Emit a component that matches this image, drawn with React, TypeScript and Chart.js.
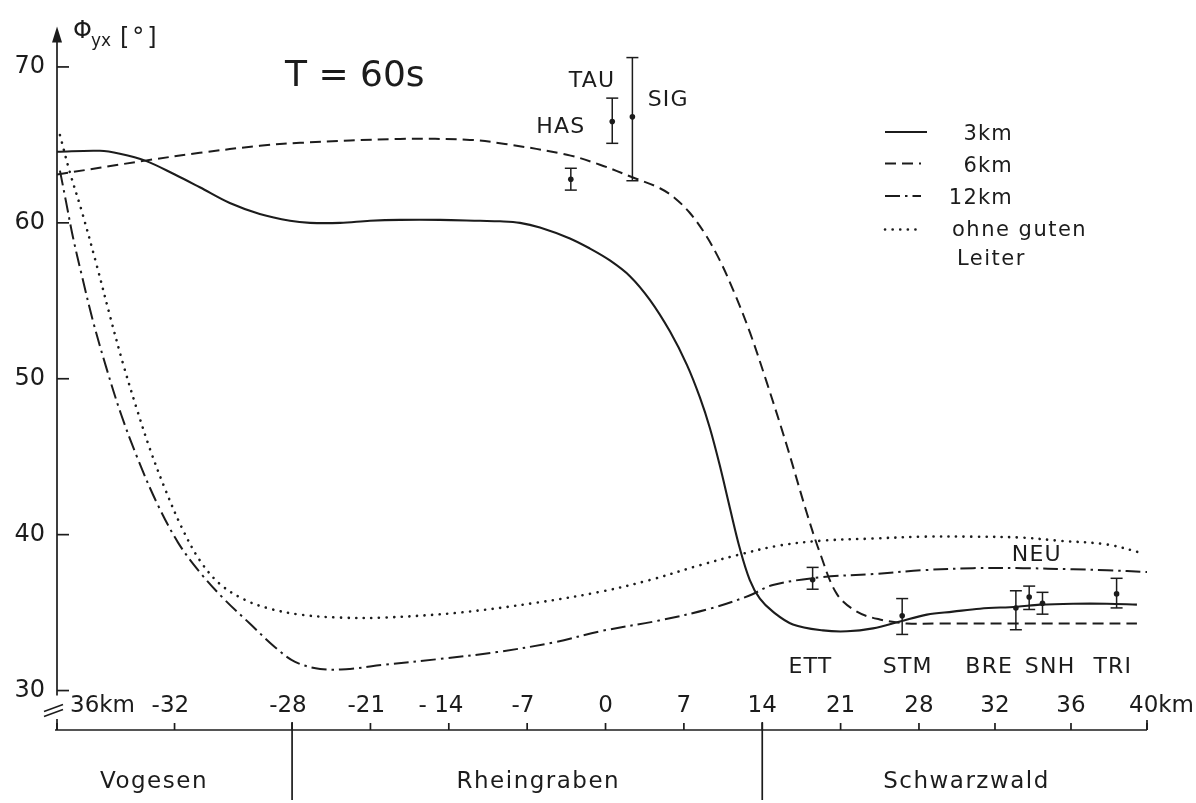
import { useEffect, useRef } from 'react';
import { Chart, registerables } from 'chart.js';

Chart.register(...registerables);

const INK = '#1c1c1c';
const FONT = '"DejaVu Sans", "Liberation Sans", sans-serif';

// Profile axis: piecewise scale, km -> axis units (Vogesen, Rheingraben, Schwarzwald)
const AXIS_KM = [-36, -28, 28, 40];
const AXIS_POS = [0, 3, 11, 13.91];

const TICK_KM = [-36, -32, -28, -21, -14, -7, 0, 7, 14, 21, 28, 32, 36, 40];
const TICK_LABELS = ['36km', '-32', '-28', '-21', '- 14', '-7', '0', '7', '14', '21', '28', '32', '36', '40km'];
const Y_TICKS = [30, 40, 50, 60, 70];

const REGION_NAMES = ['Vogesen', 'Rheingraben', 'Schwarzwald'];
const REGION_LABEL_KM = [-32.7, -6, 30.5];
const REGION_BOUNDS_KM = [-28, 14];

const SERIES_LABELS = ['3km', '6km', '12km', 'ohne guten\nLeiter'];

// Model curves: distance along profile (km) and phase Φyx (°)
const KM_3 = [-36, -34.54, -33.86, -33.0, -31.99, -31.14, -30.12, -29.1, -28.07, -26.39, -23.71, -21.04, -18.36, -14.79, -11.21, -9.43, -7.64, -5.86, -3.18, -1.39, 0.39, 2.18, 3.96, 5.75, 7.27, 8.43, 9.32, 10.21, 11.11, 12.0, 12.89, 13.79, 14.95, 16.74, 19.42, 21.57, 23.89, 26.3, 28.42, 29.79, 31.21, 33.16, 34.37, 36.11, 37.89, 39.47];
const PHI_3 = [64.56, 64.62, 64.43, 63.99, 63.1, 62.28, 61.27, 60.57, 60.13, 60.0, 60.0, 60.13, 60.19, 60.19, 60.13, 60.1, 60.0, 59.7, 59.0, 58.35, 57.59, 56.58, 55.06, 53.04, 50.89, 48.8, 46.84, 44.43, 41.71, 39.11, 37.09, 35.89, 35.06, 34.24, 33.86, 33.8, 33.99, 34.43, 34.87, 35.06, 35.25, 35.38, 35.51, 35.57, 35.57, 35.51];

const KM_6 = [-36, -33.0, -31.14, -29.1, -27.29, -18.36, -12.11, -8.98, -3.45, -0.5, 2.45, 4.86, 6.2, 7.54, 8.88, 10.21, 11.55, 12.9, 14.41, 16.2, 17.98, 19.14, 20.66, 22.45, 24.5, 26.93, 29.1, 33.16, 39.47];
const PHI_6 = [63.1, 63.99, 64.49, 64.94, 65.13, 65.38, 65.32, 65.06, 64.37, 63.73, 62.91, 62.22, 61.58, 60.63, 59.3, 57.59, 55.44, 52.97, 49.75, 45.7, 41.39, 38.86, 36.2, 35.06, 34.56, 34.3, 34.3, 34.3, 34.3];

const KM_12 = [-35.9, -35.69, -35.46, -35.15, -34.78, -34.33, -33.82, -33.24, -32.6, -31.88, -31.14, -30.29, -29.44, -28.58, -27.73, -25.5, -22.82, -19.87, -14.79, -9.7, -4.52, -0.5, 4.77, 9.32, 12.81, 14.95, 19.42, 23.89, 28.21, 30.84, 33.47, 36.11, 37.89, 40.0];
const PHI_12 = [63.35, 61.33, 59.11, 56.58, 53.73, 50.76, 47.72, 44.81, 42.03, 39.49, 37.59, 35.82, 34.3, 32.78, 31.84, 31.39, 31.39, 31.65, 32.03, 32.47, 33.1, 33.8, 34.49, 35.25, 36.08, 36.77, 37.28, 37.47, 37.72, 37.85, 37.85, 37.78, 37.72, 37.6];

const KM_NOC = [-35.9, -35.56, -35.15, -34.64, -34.2, -33.76, -33.28, -32.84, -32.33, -31.75, -31.14, -30.46, -29.61, -28.76, -27.29, -23.71, -19.87, -13.09, -6.21, -0.5, 3.96, 8.43, 12.0, 15.5, 19.42, 23.89, 28.21, 30.84, 33.47, 35.26, 37.89, 39.8];
const PHI_NOC = [65.63, 63.23, 60.7, 57.22, 54.05, 51.01, 48.04, 45.51, 42.97, 40.44, 38.35, 36.84, 35.82, 35.25, 34.87, 34.68, 34.68, 35.0, 35.63, 36.33, 37.09, 38.04, 38.73, 39.3, 39.62, 39.75, 39.87, 39.87, 39.81, 39.62, 39.37, 38.8];

// Stations: measured phase with error range
const STATION_NAMES = ['HAS', 'TAU', 'SIG', 'ETT', 'STM', 'BRE', 'NEU', 'SNH', 'TRI'];
const STATION_KM = [-3.1, 0.6, 2.4, 18.5, 26.5, 33.1, 33.8, 34.5, 38.4];
const STATION_PHI = [62.8, 66.5, 66.8, 37.1, 34.8, 35.3, 36.0, 35.6, 36.2];
const STATION_LOW = [62.1, 65.1, 62.7, 36.5, 33.6, 33.9, 35.2, 34.9, 35.3];
const STATION_HIGH = [63.5, 68.0, 70.6, 37.9, 35.9, 36.4, 36.7, 36.3, 37.2];
// Where each station name is written (km, °)
const STATION_LABEL_KM = [-4.0, -1.2, 5.6, 18.3, 27.0, 31.7, 34.2, 34.9, 38.2];
const STATION_LABEL_PHI = [66.1, 69.1, 67.85, 31.5, 31.5, 31.5, 38.7, 31.5, 31.5];

function kmToAxis(km: number): number {
  for (let i = 1; i < AXIS_KM.length; i++) {
    if (km <= AXIS_KM[i] || i === AXIS_KM.length - 1) {
      const t = (km - AXIS_KM[i - 1]) / (AXIS_KM[i] - AXIS_KM[i - 1]);
      return AXIS_POS[i - 1] + t * (AXIS_POS[i] - AXIS_POS[i - 1]);
    }
  }
  return 0;
}

const toPoints = (km: number[], phi: number[]) => km.map((k, i) => ({ x: kmToAxis(k), y: phi[i] }));

function seg(ctx: CanvasRenderingContext2D, x1: number, y1: number, x2: number, y2: number) {
  ctx.beginPath();
  ctx.moveTo(x1, y1);
  ctx.lineTo(x2, y2);
  ctx.stroke();
}

function text(
  ctx: CanvasRenderingContext2D,
  str: string,
  x: number,
  y: number,
  size: number,
  align: CanvasTextAlign = 'center',
  spacing = 0,
  baseline: CanvasTextBaseline = 'middle'
) {
  ctx.font = `${size}px ${FONT}`;
  (ctx as any).letterSpacing = `${spacing}px`;
  ctx.textAlign = align;
  ctx.textBaseline = baseline;
  ctx.fillText(str, x, y);
  (ctx as any).letterSpacing = '0px';
}

const profileDecor = {
  id: 'profileDecor',
  beforeDraw(chart: any) {
    const { ctx, width, height } = chart;
    ctx.save();
    ctx.fillStyle = '#ffffff';
    ctx.fillRect(0, 0, width, height);
    ctx.restore();
  },
  afterDatasetsDraw(chart: any) {
    const { ctx, chartArea, scales } = chart;
    const X = (km: number) => scales.x.getPixelForValue(kmToAxis(km));
    const Y = (v: number) => scales.y.getPixelForValue(v);
    const left = chartArea.left;
    const top = chartArea.top;
    const bottom = chartArea.bottom;
    const y30 = Y(30);

    ctx.save();
    ctx.strokeStyle = INK;
    ctx.fillStyle = INK;
    ctx.lineWidth = 1.7;
    ctx.lineCap = 'butt';

    // y axis with arrow and a break below 30
    seg(ctx, left, top + 12, left, y30 + 5);
    seg(ctx, left, bottom - 11, left, bottom);
    ctx.beginPath();
    ctx.moveTo(left, top);
    ctx.lineTo(left - 5, top + 16);
    ctx.lineTo(left + 5, top + 16);
    ctx.closePath();
    ctx.fill();
    ctx.lineWidth = 1.5;
    seg(ctx, left - 13, y30 + 21, left + 6, y30 + 14);
    seg(ctx, left - 13, y30 + 26, left + 6, y30 + 19);
    ctx.lineWidth = 1.7;
    Y_TICKS.forEach((v) => seg(ctx, left, Y(v), left + 12, Y(v)));

    // y axis title Φyx [°]
    text(ctx, 'Φ', left + 16, 38, 24, 'left', 0, 'alphabetic');
    text(ctx, 'yx', left + 34, 46, 17, 'left', 0, 'alphabetic');
    text(ctx, '[°]', left + 63, 45, 24, 'left', 3, 'alphabetic');

    // x axis
    const xEnd = X(40);
    seg(ctx, left - 2, bottom, xEnd, bottom);
    TICK_KM.forEach((km) => seg(ctx, X(km), bottom, X(km), bottom - 7));
    seg(ctx, xEnd, bottom, xEnd, bottom - 10);
    REGION_BOUNDS_KM.forEach((km) => seg(ctx, X(km), bottom - 8, X(km), bottom + 70));

    TICK_LABELS.forEach((lab, i) => {
      const x = X(TICK_KM[i]);
      const y = bottom - 24;
      if (i === 0) {
        text(ctx, lab, x + 13, y, 23, 'left');
      } else if (i === TICK_LABELS.length - 1) {
        text(ctx, lab, x - 18, y, 23, 'left');
      } else if (lab.startsWith('-')) {
        ctx.font = `23px ${FONT}`;
        const digits = lab.replace(/^-\s*/, '');
        const w = ctx.measureText(digits).width;
        text(ctx, lab, x + w / 2, y, 23, 'right');
      } else {
        text(ctx, lab, x, y, 23, 'center');
      }
    });

    REGION_NAMES.forEach((name, i) => text(ctx, name, X(REGION_LABEL_KM[i]), bottom + 52, 23, 'center', 1.5));

    // measurement error bars
    ctx.lineWidth = 1.5;
    STATION_KM.forEach((km, i) => {
      const x = X(km);
      const y1 = Y(STATION_LOW[i]);
      const y2 = Y(STATION_HIGH[i]);
      seg(ctx, x, y1, x, y2);
      seg(ctx, x - 6, y1, x + 6, y1);
      seg(ctx, x - 6, y2, x + 6, y2);
    });
    STATION_NAMES.forEach((name, i) =>
      text(ctx, name, X(STATION_LABEL_KM[i]), Y(STATION_LABEL_PHI[i]), 22, 'center', 1.2)
    );

    // period
    text(ctx, 'T = 60s', 285, 86, 36, 'left', 0, 'alphabetic');

    // legend
    const lx = 885;
    const rows = [132, 163.5, 196, 229.5];
    chart.data.datasets.slice(0, 4).forEach((ds: any, i: number) => {
      const y = rows[i];
      ctx.save();
      ctx.lineWidth = ds.borderWidth;
      ctx.setLineDash(ds.borderDash || []);
      ctx.lineCap = ds.borderCapStyle || 'butt';
      seg(ctx, lx, y, lx + (i === 0 ? 42 : 36), y);
      ctx.restore();
      const lines = String(ds.label).split('\n');
      if (lines.length === 1) {
        text(ctx, lines[0], lx + 128, y + 3, 21, 'right', 1.2);
      } else {
        lines.forEach((ln, j) => text(ctx, ln, lx + 67 + j * 5, y + 1 + j * 29, 21, 'left', 1.5));
      }
    });

    ctx.restore();
  },
};

export default function App() {
  const ref = useRef<HTMLCanvasElement | null>(null);

  useEffect(() => {
    if (!ref.current) return;
    const lineDefaults = {
      type: 'line' as const,
      pointRadius: 0,
      fill: false,
      borderColor: INK,
      tension: 0.35,
    };
    const chart = new Chart(ref.current, {
      type: 'line',
      data: {
        datasets: [
          { ...lineDefaults, label: SERIES_LABELS[0], data: toPoints(KM_3, PHI_3), borderWidth: 2.1, borderDash: [] },
          { ...lineDefaults, label: SERIES_LABELS[1], data: toPoints(KM_6, PHI_6), borderWidth: 2.0, borderDash: [11, 6] },
          { ...lineDefaults, label: SERIES_LABELS[2], data: toPoints(KM_12, PHI_12), borderWidth: 2.0, borderDash: [15, 5, 2.5, 5] },
          {
            ...lineDefaults,
            label: SERIES_LABELS[3],
            data: toPoints(KM_NOC, PHI_NOC),
            borderWidth: 2.6,
            borderDash: [0.1, 7.5],
            borderCapStyle: 'round',
          },
          {
            type: 'scatter' as const,
            label: 'Messwerte',
            data: toPoints(STATION_KM, STATION_PHI),
            pointRadius: 2.8,
            pointBackgroundColor: INK,
            pointBorderWidth: 0,
            showLine: false,
          },
        ] as any,
      },
      options: {
        animation: false,
        responsive: true,
        maintainAspectRatio: false,
        layout: { padding: { top: 17, right: 49, bottom: 73, left: 0 } },
        plugins: { legend: { display: false }, tooltip: { enabled: false } },
        scales: {
          x: { type: 'linear', display: false, min: 0, max: kmToAxis(40) },
          y: {
            type: 'linear',
            min: 27.47,
            max: 72.6,
            afterBuildTicks: (scale: any) => {
              scale.ticks = Y_TICKS.map((v) => ({ value: v }));
            },
            afterFit: (scale: any) => {
              scale.width = 57;
            },
            grid: { display: false, drawTicks: false },
            border: { display: false },
            ticks: { color: INK, font: { family: FONT, size: 24 }, padding: 12 },
          },
        },
      } as any,
      plugins: [profileDecor],
    });
    return () => chart.destroy();
  }, []);

  return (
    <div style={{ position: 'absolute', left: 0, top: 0, width: 1196, height: 803, background: '#fff' }}>
      <canvas ref={ref} />
    </div>
  );
}
